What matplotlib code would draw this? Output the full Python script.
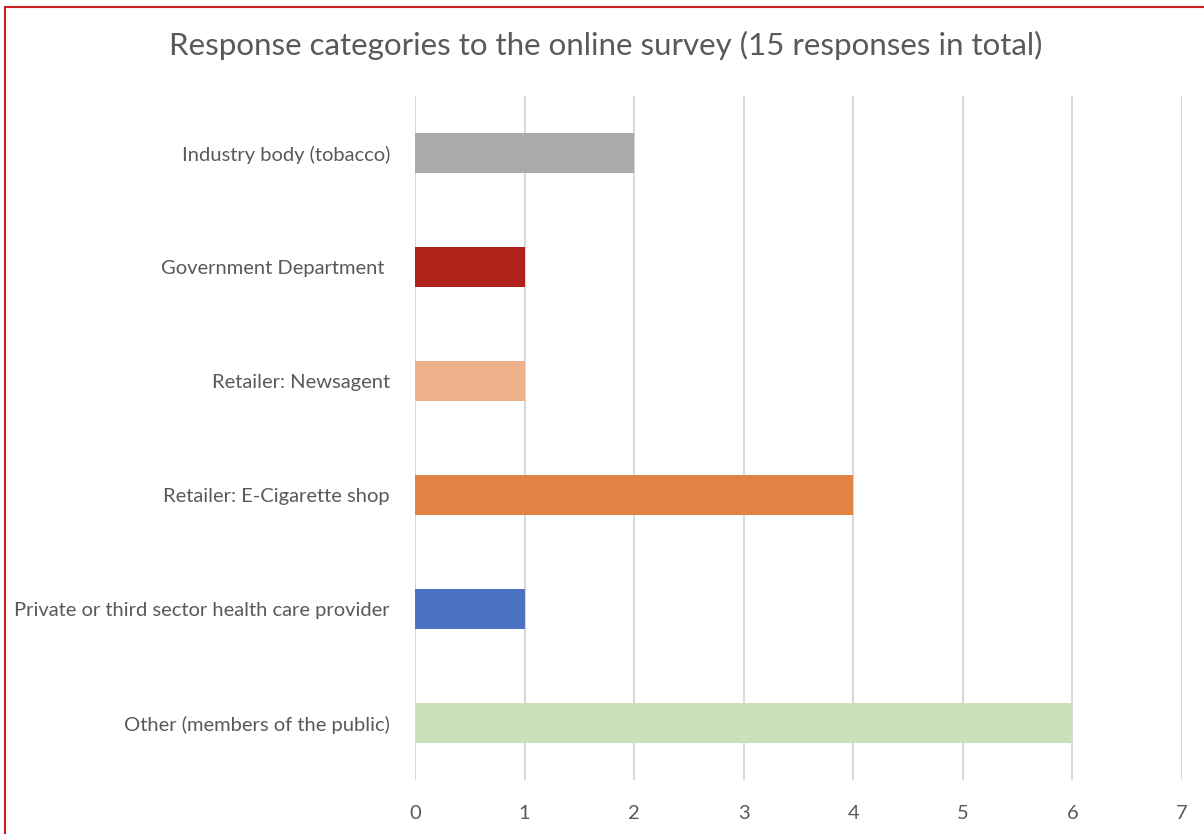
import matplotlib
matplotlib.use('Agg')
import matplotlib.pyplot as plt
from matplotlib.lines import Line2D

# data, top to bottom as shown
categories = ['Industry body (tobacco)', 'Government Department ', 'Retailer: Newsagent',
              'Retailer: E-Cigarette shop', 'Private or third sector health care provider',
              'Other (members of the public)']
responses = [2, 1, 1, 4, 1, 6]
colors = ['#abaaa8', '#b02219', '#edb28b', '#e08345', '#4a72c0', '#c9e0bb']
xticks = [0, 1, 2, 3, 4, 5, 6, 7]

plt.rcParams['font.family'] = ['Lato', 'DejaVu Sans']
txt = '#595959'

fig = plt.figure(figsize=(12.04, 8.34), dpi=100)
ax = fig.add_axes([0.3447, 0.0647, 0.6370, 0.8202])

ypos = list(range(len(categories)))[::-1]
ax.barh(ypos, responses, height=0.35, color=colors, zorder=3)

ax.set_xlim(0, 7)
ax.set_ylim(-0.5, 5.5)
ax.set_xticks(xticks)
ax.set_yticks(ypos)
ax.set_yticklabels(categories)
ax.grid(axis='x', color='#d9d9d9', linewidth=1.5, zorder=0)
for s in ax.spines.values():
    s.set_visible(False)
ax.tick_params(axis='both', length=0, colors=txt, labelsize=14.5)
ax.tick_params(axis='x', pad=18)
ax.tick_params(axis='y', pad=18)

fig.text(0.503, 0.945, 'Response categories to the online survey (15 responses in total)',
         ha='center', va='center', fontsize=22.5, color=txt)

# red frame around the screenshot (top and left edges visible)
fig.add_artist(Line2D([0.0042, 1.0], [0.9916, 0.9916], color='#cc1f1f', linewidth=1.5, transform=fig.transFigure))
fig.add_artist(Line2D([0.0042, 0.0042], [0.0, 0.9916], color='#cc1f1f', linewidth=1.5, transform=fig.transFigure))

fig.savefig('out.png', dpi=100)
